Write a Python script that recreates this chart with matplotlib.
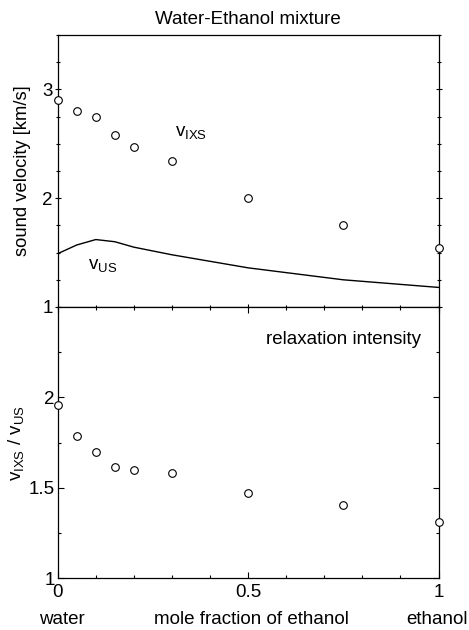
"""
Water-Ethanol mixture: IXS vs ultrasound sound velocity and their ratio.
"""

import matplotlib
matplotlib.use("Agg")
import matplotlib.pyplot as plt
from matplotlib.ticker import MultipleLocator

plt.rcParams["font.family"] = ["Liberation Sans", "DejaVu Sans"]
plt.rcParams["mathtext.fontset"] = "custom"
plt.rcParams["mathtext.rm"] = "Liberation Sans"
plt.rcParams["mathtext.it"] = "Liberation Sans"

# mole fraction of ethanol
x_frac = [0.0, 0.05, 0.1, 0.15, 0.2, 0.3, 0.5, 0.75, 1.0]
# IXS sound velocity [km/s]
v_ixs = [2.90, 2.80, 2.75, 2.58, 2.47, 2.34, 2.00, 1.75, 1.54]
# ultrasound velocity [km/s]
v_us = [1.49, 1.57, 1.62, 1.60, 1.55, 1.48, 1.36, 1.25, 1.18]
# relaxation intensity v_IXS / v_US
ratio = [1.96, 1.785, 1.70, 1.615, 1.596, 1.583, 1.473, 1.404, 1.308]

fig = plt.figure(figsize=(4.69, 6.3), dpi=100)
ax1 = fig.add_axes([0.123, 0.5127, 0.812, 0.4317])
ax2 = fig.add_axes([0.123, 0.0825, 0.812, 0.4302])

fs = 13.5
mk = dict(marker="o", linestyle="none", markersize=5.5, markerfacecolor="white",
          markeredgecolor="black", markeredgewidth=0.8, clip_on=False, zorder=5)

ax1.plot(x_frac, v_us, color="black", linewidth=1.0)
ax1.plot(x_frac, v_ixs, **mk)
ax1.text(0.308, 2.6, r"v$_{\mathrm{IXS}}$", fontsize=fs, ha="left", va="center")
ax1.text(0.08, 1.38, r"v$_{\mathrm{US}}$", fontsize=fs, ha="left", va="center")
ax1.set_xlim(0, 1)
ax1.set_ylim(1, 3.5)
ax1.yaxis.set_major_locator(MultipleLocator(1))
ax1.yaxis.set_minor_locator(MultipleLocator(0.25))
ax1.set_xticks([0, 0.5, 1])
ax1.xaxis.set_minor_locator(MultipleLocator(0.1))
ax1.tick_params(axis="both", which="both", direction="inout", right=True,
                top=False, labelbottom=False, labelsize=fs, pad=1)
ax1.tick_params(which="major", length=5, width=0.8)
ax1.tick_params(which="minor", length=3, width=0.8)
ax1.set_ylabel("sound velocity [km/s]", fontsize=13.2, labelpad=8)
ax1.set_title("Water-Ethanol mixture", fontsize=fs, pad=8)

ax2.plot(x_frac, ratio, **mk)
ax2.text(0.953, 2.32, "relaxation intensity", fontsize=fs, ha="right", va="center")
ax2.set_xlim(0, 1)
ax2.set_ylim(1, 2.5)
ax2.set_yticks([1, 1.5, 2])
ax2.set_yticklabels(["1", "1.5", "2"])
ax2.yaxis.set_minor_locator(MultipleLocator(0.25))
ax2.set_xticks([0, 0.5, 1])
ax2.set_xticklabels(["0", "0.5", "1"])
ax2.xaxis.set_minor_locator(MultipleLocator(0.1))
ax2.tick_params(axis="both", which="both", direction="in", right=True,
                top=True, labelsize=fs, pad=2)
ax2.tick_params(axis="x", which="both", pad=4)
ax2.tick_params(which="major", length=4, width=0.8)
ax2.tick_params(which="minor", length=2.5, width=0.8)
ax2.set_ylabel(r"v$_{\mathrm{IXS}}$ / v$_{\mathrm{US}}$", fontsize=fs, labelpad=2)

for ax in (ax1, ax2):
    for sp in ax.spines.values():
        sp.set_linewidth(0.9)

fig.text(62 / 469, 1 - 620 / 630, "water", fontsize=fs, ha="center", va="center")
fig.text(251 / 469, 1 - 620 / 630, "mole fraction of ethanol", fontsize=fs,
         ha="center", va="center")
fig.text(437 / 469, 1 - 620 / 630, "ethanol", fontsize=fs, ha="center", va="center")

fig.savefig("out.png", dpi=100, facecolor="white")
